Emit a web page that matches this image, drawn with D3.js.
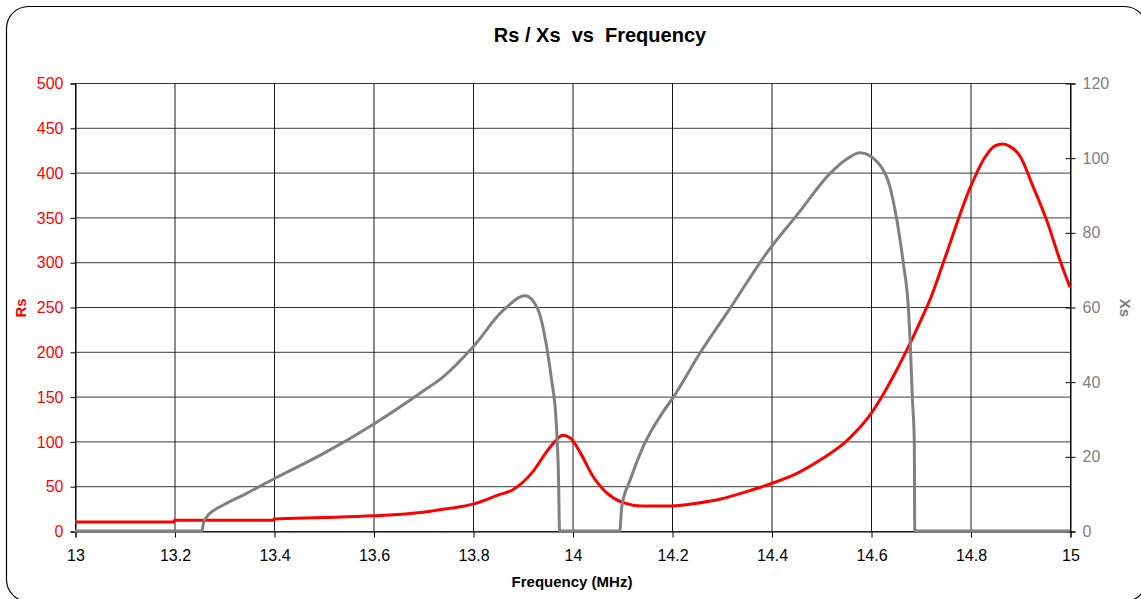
<!DOCTYPE html>
<html>
<head>
<meta charset="utf-8">
<script src="https://cdn.jsdelivr.net/npm/d3@7"></script>
<style>
  body { margin: 0; background: #fff; }
  svg { font-family: "Liberation Sans", Arial, sans-serif; }
</style>
</head>
<body>
<svg id="chart" width="1141" height="599"></svg>
<script>
/** Rs series (left axis) */
var rsFreq = [13.0, 13.199, 13.2, 13.399, 13.4, 13.5, 13.6, 13.7, 13.75, 13.8, 13.85, 13.88, 13.92, 13.95, 13.965, 13.98, 13.995, 14.015, 14.04, 14.07, 14.1, 14.14, 14.2, 14.25, 14.3, 14.35, 14.4, 14.45, 14.5, 14.55, 14.575, 14.6, 14.625, 14.65, 14.68, 14.7, 14.72, 14.75, 14.8, 14.83, 14.85, 14.865, 14.88, 14.9, 14.926, 14.953, 14.98, 15.0];
var rsValues = [10, 10, 12, 12, 13.5, 15, 17, 21, 25, 30, 40, 46, 66, 90, 100, 107, 104, 88, 62, 42, 32, 28, 28, 31, 36, 44, 53, 64, 80, 100, 114, 131, 153, 178, 211, 235, 260, 307, 384, 418, 430, 432, 429, 418, 384, 347, 302, 272];

/** Xs series (right axis) */
var xsFreq = [13.0, 13.255, 13.258, 13.265, 13.28, 13.3, 13.345, 13.4, 13.5, 13.6, 13.7, 13.74, 13.8, 13.86, 13.905, 13.93, 13.948, 13.958, 13.967, 13.972, 13.974, 14.095, 14.099, 14.116, 14.142, 14.18, 14.2, 14.256, 14.317, 14.39, 14.451, 14.518, 14.55, 14.578, 14.615, 14.638, 14.652, 14.665, 14.675, 14.679, 14.683, 14.687, 14.688, 15.0];
var xsValues = [0, 0, 2, 3.8, 5.6, 7.1, 10.1, 14, 20.8, 28.6, 37.5, 41.3, 49.3, 59, 63, 59.5, 49.4, 40.4, 29.7, 13.7, 0, 0, 6.5, 13.7, 22.6, 31.5, 35.3, 47.6, 59.7, 74.4, 84.6, 95.8, 99.5, 101.3, 98.5, 92.2, 83.3, 71.7, 60, 50, 36, 24, 0, 0];

/** Tick values */
var freqTicks = [13, 13.2, 13.4, 13.6, 13.8, 14, 14.2, 14.4, 14.6, 14.8, 15];
var rsTicks = [0, 50, 100, 150, 200, 250, 300, 350, 400, 450, 500];
var xsTicks = [0, 20, 40, 60, 80, 100, 120];

var plotLeft = 75, plotRight = 1070, plotTop = 83, plotBottom = 531;

var svg = d3.select('#chart');

// outer frame
svg.append('rect')
    .attr('x', 6.5).attr('y', 6.5)
    .attr('width', 1140).attr('height', 595)
    .attr('rx', 22).attr('ry', 22)
    .attr('fill', '#fff')
    .attr('stroke', '#000')
    .attr('stroke-width', 1.2);

var x = d3.scaleLinear().domain([13, 15]).range([plotLeft, plotRight]);
var yRs = d3.scaleLinear().domain([0, 500]).range([plotBottom, plotTop]);
var yXs = d3.scaleLinear().domain([0, 120]).range([plotBottom, plotTop]);

// gridlines
svg.append('g').selectAll('line')
    .data(rsTicks)
    .enter().append('line')
    .attr('x1', plotLeft).attr('x2', plotRight)
    .attr('y1', function (d) { return yRs(d) + 0.5; })
    .attr('y2', function (d) { return yRs(d) + 0.5; })
    .attr('stroke', '#3a3a3a').attr('stroke-width', 1);

svg.append('g').selectAll('line')
    .data(freqTicks)
    .enter().append('line')
    .attr('x1', function (d) { return x(d) + 0.5; })
    .attr('x2', function (d) { return x(d) + 0.5; })
    .attr('y1', plotTop).attr('y2', plotBottom)
    .attr('stroke', '#1a1a1a').attr('stroke-width', 1);

// axes
var xAxis = d3.axisBottom(x).tickValues(freqTicks).tickSize(6).tickFormat(d3.format('~g'));
var gx = svg.append('g').attr('transform', 'translate(0.5,' + (plotBottom + 0.5) + ')').call(xAxis);
gx.selectAll('text').attr('fill', '#000').attr('font-size', 16).attr('dy', '1.25em');

var lAxis = d3.axisLeft(yRs).tickValues(rsTicks).tickSize(5);
var gl = svg.append('g').attr('transform', 'translate(' + (plotLeft + 0.5) + ',0.5)').call(lAxis);
gl.selectAll('text').attr('fill', '#ff0000').attr('font-size', 16).attr('x', -12);

var rAxis = d3.axisRight(yXs).tickValues(xsTicks).tickSize(5);
var gr = svg.append('g').attr('transform', 'translate(' + (plotRight + 0.5) + ',0.5)').call(rAxis);
gr.selectAll('text').attr('fill', '#808080').attr('font-size', 16).attr('x', 12);
gr.selectAll('.tick line').attr('x1', -5);

[gx, gl, gr].forEach(function (g) {
    g.selectAll('.domain').attr('stroke', '#000');
    g.selectAll('.tick line').attr('stroke', '#000');
});

// series
var rsData = rsFreq.map(function (f, i) { return [f, rsValues[i]]; });
var xsData = xsFreq.map(function (f, i) { return [f, xsValues[i]]; });

var lineRs = d3.line()
    .x(function (d) { return x(d[0]); })
    .y(function (d) { return yRs(d[1]); })
    .curve(d3.curveMonotoneX);

var lineXs = d3.line()
    .x(function (d) { return x(d[0]); })
    .y(function (d) { return yXs(d[1]); })
    .curve(d3.curveMonotoneX);

svg.append('path').datum(rsData)
    .attr('d', lineRs)
    .attr('fill', 'none').attr('stroke', '#ff0000').attr('stroke-width', 3);

svg.append('path').datum(xsData)
    .attr('d', lineXs)
    .attr('fill', 'none').attr('stroke', '#808080').attr('stroke-width', 3);

// titles
svg.append('text')
    .attr('x', 600).attr('y', 42)
    .attr('text-anchor', 'middle')
    .attr('font-size', 20).attr('font-weight', 'bold')
    .attr('xml:space', 'preserve')
    .text('Rs / Xs  vs  Frequency');

svg.append('text')
    .attr('x', 572).attr('y', 587)
    .attr('text-anchor', 'middle')
    .attr('font-size', 15).attr('font-weight', 'bold')
    .text('Frequency (MHz)');

svg.append('text')
    .attr('transform', 'translate(26,' + 308 + ') rotate(-90)')
    .attr('text-anchor', 'middle')
    .attr('font-size', 15).attr('font-weight', 'bold')
    .attr('fill', '#ff0000')
    .text('Rs');

svg.append('text')
    .attr('transform', 'translate(1120,' + 308 + ') rotate(90)')
    .attr('text-anchor', 'middle')
    .attr('font-size', 15).attr('font-weight', 'bold')
    .attr('fill', '#808080')
    .text('Xs');
</script>
</body>
</html>
